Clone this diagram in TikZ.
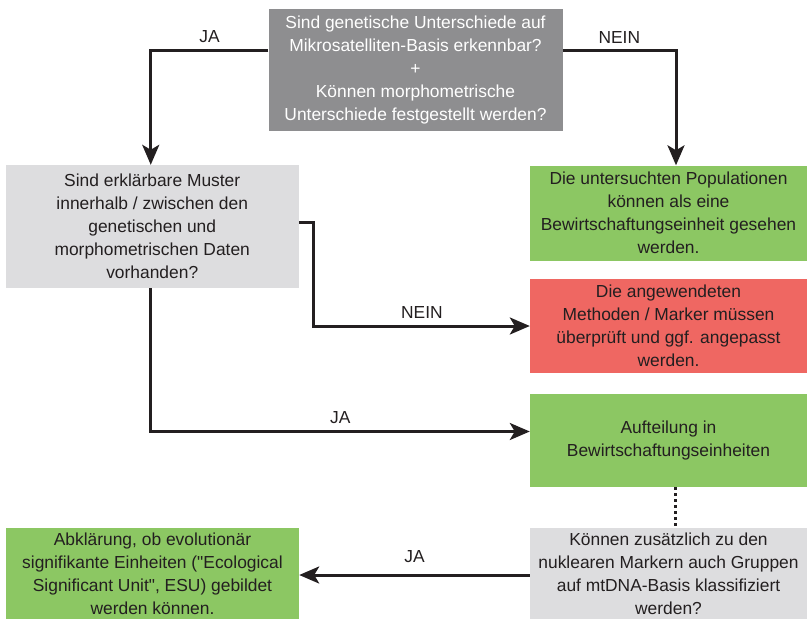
\documentclass[tikz,border=0pt]{standalone}
\usepackage{fontspec}
\setmainfont{Liberation Sans}[Ligatures=TeXOff]
\usetikzlibrary{arrows.meta}
\definecolor{boxdark}{HTML}{8E8E90}
\definecolor{boxlight}{HTML}{DDDDDF}
\definecolor{boxgreen}{HTML}{8CC763}
\definecolor{boxred}{HTML}{EF6762}
\definecolor{ink}{HTML}{231F20}
\begin{document}
\begin{tikzpicture}[x=1pt,y=-1pt,
    every node/.style={font=\fontsize{17.4}{23}\selectfont,align=center,text=ink,inner sep=0pt},
    flow/.style={draw=ink,line width=3pt,-{Stealth[length=20pt,width=17pt,inset=5pt]}},
    lbl/.style={above=6pt}]
  \useasboundingbox (0,0) rectangle (811,619);
  \node (top) at (415.5,70) [fill=boxdark,text=white,minimum width=294pt,minimum height=122pt]
    {Sind genetische Unterschiede auf\\Mikrosatelliten-Basis erkennbar?\\+\\Können morphometrische\\Unterschiede festgestellt werden?};
  \node (muster) at (152.25,226.5) [fill=boxlight,minimum width=293pt,minimum height=123pt]
    {Sind erklärbare Muster\\innerhalb / zwischen den\\genetischen und\\morphometrischen Daten\\vorhanden?};
  \node (einheit) at (668.5,213) [fill=boxgreen,minimum width=277pt,minimum height=95pt]
    {Die untersuchten Populationen\\können als eine\\Bewirtschaftungseinheit gesehen\\werden.};
  \node (methoden) at (668.5,326) [fill=boxred,minimum width=277pt,minimum height=94pt]
    {Die angewendeten\\Methoden / Marker müssen\\überprüft und ggf. angepasst\\werden.};
  \node (aufteilung) at (668.5,440.5) [fill=boxgreen,minimum width=277pt,minimum height=93pt]
    {Aufteilung in\\Bewirtschaftungseinheiten};
  \node (mtdna) at (668.5,573.5) [fill=boxlight,minimum width=277pt,minimum height=91pt]
    {Können zusätzlich zu den\\nuklearen Markern auch Gruppen\\auf mtDNA-Basis klassifiziert\\werden?};
  \node (esu) at (152.5,573.5) [fill=boxgreen,minimum width=293pt,minimum height=91pt]
    {Abklärung, ob evolutionär\\signifikante Einheiten ("Ecological\\Significant Unit", ESU) gebildet\\werden können.};

  \draw [flow] ([yshift=19.5pt]top.west) -| node[lbl,pos=0.25] {JA} ([xshift=-1.5pt]muster.north);
  \draw [flow] ([yshift=19.5pt]top.east) -| node[lbl,pos=0.25] {NEIN} ([xshift=7.5pt]einheit.north);
  \draw [flow] ([yshift=4.5pt]muster.east) -- ++(15,0) |- node[lbl,pos=0.75] {NEIN} (methoden.west);
  \draw [flow] ([xshift=-1.5pt]muster.south) |- node[lbl,pos=0.75] {JA} ([yshift=9pt]aufteilung.west);
  \draw [draw=ink,line width=3pt,dash pattern=on 3pt off 3pt] ([xshift=7pt]aufteilung.south) -- ([xshift=7pt]mtdna.north);
  \draw [flow] ([yshift=-1.5pt]mtdna.west) -- node[lbl,above=5pt] {JA} ([yshift=-1.5pt]esu.east);
\end{tikzpicture}
\end{document}
